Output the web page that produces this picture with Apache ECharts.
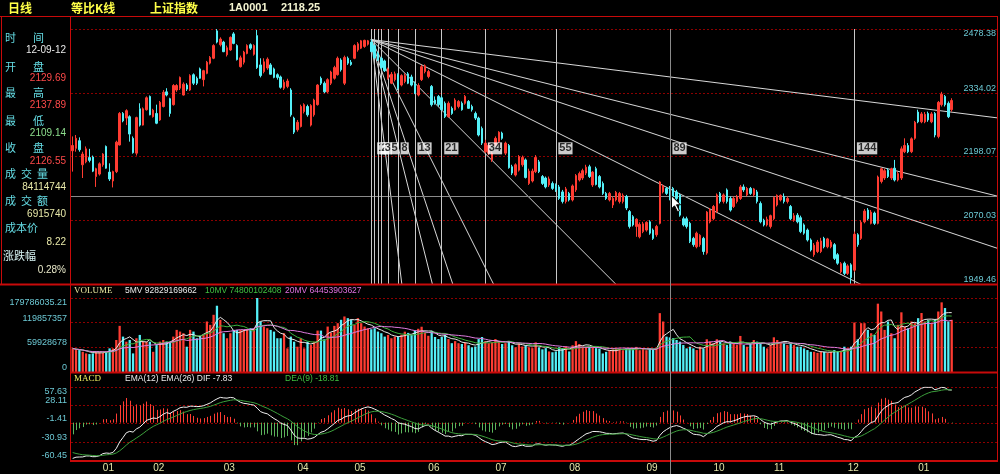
<!DOCTYPE html>
<html>
<head>
<meta charset="utf-8">
<title>上证指数 日线</title>
<script src="https://cdn.jsdelivr.net/npm/echarts@6.0.0/dist/echarts.min.js"></script>
<style>
  html, body { margin: 0; padding: 0; background: #000; }
  #chart { width: 1000px; height: 474px; }
</style>
</head>
<body>
<div id="chart"></div>
<script>
// ---- values ----
const opens = [2210,2215,2231,2181,2187,2196,2197,2157,2162,2181,
  2219,2166,2148,2167,2222,2289,2279,2282,2236,2205,
  2299,2264,2297,2326,2282,2289,2275,2304,2336,2321,
  2308,2340,2344,2329,2351,2340,2374,2366,2387,2363,
  2377,2400,2411,2474,2442,2448,2419,2430,2467,2440,
  2392,2402,2422,2442,2420,2463,2396,2381,2389,2396,
  2387,2374,2369,2344,2348,2340,2279,2254,2261,2293,
  2304,2264,2286,2308,2366,2355,2336,2355,2366,2374,
  2407,2355,2411,2402,2411,2430,2434,2438,2443,2448,
  2440,2422,2411,2405,2366,2355,2363,2374,2351,2359,
  2376,2369,2354,2329,2363,2381,2370,2348,2318,2326,
  2323,2311,2282,2300,2297,2304,2311,2311,2315,2304,
  2289,2279,2257,2208,2205,2191,2222,2229,2247,2205,
  2221,2177,2160,2170,2181,2191,2143,2148,2167,2187,
  2157,2154,2140,2143,2140,2136,2126,2107,2123,2110,
  2130,2150,2154,2164,2177,2140,2173,2157,2143,2123,
  2110,2100,2110,2107,2107,2117,2087,2077,2058,2038,
  2048,2051,2067,2051,2042,2064,2126,2133,2129.69,2133,
  2126,2120,2073,2073,2064,2035,2019,2023,2035,2007,
  2067,2073,2087,2123,2107,2130,2113,2097,2107,2113,
  2136,2120,2133,2120,2126,2103,2070,2061,2058,2073,
  2100,2110,2117,2107,2097,2070,2080,2075,2061,2051,
  2032,2004,2010,2010,2035,2019,2019,2023,2004,1972,
  1988,1969,1985,1975,2042,2035,2067,2090,2064,2084,
  2064,2147,2154,2170,2154,2174,2150,2154,2208,2221,
  2208,2236,2292,2271,2271,2289,2271,2289,2240,2308,
  2326,2311,2297];
const closes = [2221,2236,2212,2203,2214,2190,2168,2173,2183,2203,
  2174,2152,2167,2228,2289,2273,2295,2245,2206,2280,
  2264,2299,2323,2286,2296,2268,2313,2335,2329,2289,
  2350,2350,2368,2353,2342,2372,2355,2355,2366,2383,
  2402,2413,2440,2448,2455,2426,2435,2459,2445,2408,
  2412,2425,2440,2434,2440,2390,2372,2403,2409,2375,
  2368,2368,2346,2357,2360,2286,2249,2270,2304,2308,
  2286,2306,2318,2351,2355,2336,2363,2380,2390,2411,
  2385,2413,2400,2397,2440,2444,2451,2452,2451,2426,
  2412,2407,2390,2383,2387,2375,2376,2344,2372,2372,
  2355,2351,2333,2350,2392,2394,2381,2308,2311,2308,
  2297,2282,2311,2289,2318,2315,2297,2326,2300,2297,
  2279,2243,2226,2226,2221,2205,2236,2249,2236,2226,
  2175,2164,2181,2198,2196,2155,2168,2168,2196,2167,
  2143,2136,2152,2133,2130,2113,2107,2132,2110,2138,
  2159,2163,2169,2176,2157,2166,2141,2136,2123,2113,
  2123,2113,2125,2123,2119,2094,2058,2061,2072,2062,
  2063,2066,2045,2035,2058,2146,2138,2123,2126.55,2117,
  2113,2080,2061,2058,2029,2023,2045,2041,2010,2086,
  2090,2097,2120,2107,2120,2107,2090,2113,2117,2136,
  2130,2133,2123,2132,2107,2067,2061,2072,2079,2115,
  2119,2119,2107,2113,2073,2079,2067,2048,2045,2032,
  2013,2022,2028,2030,2019,2034,2028,1997,1988,1987,
  1969,1983,1961,2043,2023,2066,2088,2073,2086,2064,
  2156,2173,2169,2157,2173,2150,2163,2214,2221,2208,
  2235,2270,2271,2288,2287,2275,2288,2243,2313,2331,
  2308,2282,2317];
const lows = [2167,2208,2208,2154,2184,2186,2166,2136,2159,2177,
  2173,2148,2135,2164,2221,2270,2264,2229,2204,2200,
  2261,2263,2295,2285,2280,2266,2273,2302,2326,2282,
  2306,2336,2340,2328,2338,2338,2351,2351,2365,2348,
  2375,2397,2409,2445,2438,2425,2415,2428,2443,2406,
  2390,2397,2420,2430,2417,2387,2368,2377,2385,2374,
  2366,2363,2343,2340,2344,2282,2245,2250,2259,2289,
  2282,2261,2282,2306,2351,2333,2333,2351,2363,2372,
  2381,2351,2396,2394,2409,2426,2432,2435,2440,2425,
  2411,2405,2387,2380,2363,2353,2359,2340,2348,2355,
  2353,2348,2331,2326,2360,2377,2366,2304,2308,2304,
  2295,2279,2280,2286,2295,2300,2295,2308,2299,2293,
  2275,2240,2222,2205,2201,2187,2219,2226,2233,2201,
  2173,2160,2157,2167,2177,2153,2140,2145,2164,2164,
  2140,2133,2136,2130,2126,2110,2103,2103,2107,2107,
  2126,2147,2150,2160,2154,2136,2139,2133,2120,2110,
  2107,2094,2107,2103,2103,2090,2054,2058,2038,2035,
  2045,2048,2042,2032,2038,2062,2123,2120,2109.14,2113,
  2110,2077,2058,2054,2026,2019,2016,2019,2004,2004,
  2064,2070,2084,2103,2103,2103,2087,2094,2103,2110,
  2126,2117,2120,2117,2103,2064,2058,2058,2054,2070,
  2097,2107,2103,2103,2070,2067,2064,2045,2042,2029,
  2010,2000,2007,2007,2016,2016,2016,1994,1985,1969,
  1966,1966,1949.46,1972,2019,2032,2064,2070,2062,2061,
  2062,2143,2150,2154,2150,2147,2147,2150,2205,2205,
  2205,2233,2268,2268,2268,2271,2268,2238,2236,2304,
  2304,2279,2293];
const highs = [2240,2243,2238,2208,2219,2214,2200,2175,2186,2205,
  2221,2184,2169,2231,2292,2292,2298,2285,2240,2282,
  2311,2302,2326,2328,2299,2308,2316,2340,2344,2323,
  2353,2353,2370,2357,2355,2375,2377,2370,2390,2385,
  2405,2416,2443,2478.38,2459,2451,2440,2461,2471,2443,
  2417,2428,2443,2445,2443,2476,2411,2411,2413,2400,
  2390,2377,2372,2363,2365,2344,2282,2275,2308,2311,
  2308,2309,2321,2353,2370,2359,2366,2383,2394,2415,
  2411,2417,2415,2407,2443,2448,2453,2453.5,2453,2453.73,
  2443,2426,2415,2408,2390,2380,2381,2377,2375,2377,
  2380,2374,2359,2355,2396,2397,2385,2351,2326,2329,
  2328,2315,2315,2304,2322,2318,2315,2329,2318,2308,
  2293,2282,2261,2233,2226,2208,2240,2251,2250,2229,
  2224,2181,2184,2201,2200,2194,2173,2173,2201,2191,
  2160,2157,2157,2147,2143,2140,2130,2136,2126,2141,
  2162,2167,2173,2181,2181,2168,2177,2160,2147,2126,
  2126,2117,2128,2126,2123,2120,2090,2080,2074,2066,
  2067,2068,2070,2054,2061,2148,2141,2136,2137.89,2136,
  2130,2123,2077,2077,2067,2038,2048,2043,2038,2088,
  2094,2100,2123,2126,2123,2133,2117,2117,2120,2140,
  2141,2136,2136,2134,2130,2107,2073,2077,2081,2117,
  2121,2121,2123,2117,2100,2084,2084,2079,2064,2054,
  2035,2026,2032,2036,2038,2036,2032,2026,2007,1990,
  1991,1986,1988,2048,2045,2070,2092,2094,2090,2087,
  2159,2175,2173,2174,2175,2191,2167,2219,2236,2226,
  2238,2273,2297,2292,2292,2293,2292,2292,2316,2336,
  2329,2315,2322];
// volume in millions
const volumes = [57.4,53.3,53.3,49.1,45.2,43.6,45.2,49.1,49.1,46.6,
  49.1,57.4,57.4,77.8,112.1,86.0,73.7,77.8,45.2,82.0,
  90.1,73.7,73.7,73.7,49.1,65.5,73.7,77.8,73.7,73.7,
  86.0,102.3,98.2,94.2,61.5,102.3,98.2,82.0,86.0,90.1,
  122.7,114.5,139.0,161.0,126.8,94.2,82.0,94.2,102.3,102.3,
  102.3,102.3,102.3,106.4,103.9,179.78,122.7,110.4,106.4,102.3,
  98.2,82.0,82.0,94.2,57.4,86.0,73.7,61.5,82.0,57.4,
  73.7,65.5,73.7,100.6,100.6,79.5,110.4,95.8,112.1,118.6,
  126.8,134.9,130.8,126.8,114.5,130.8,118.6,110.4,106.4,103.9,
  106.4,98.2,94.2,86.0,90.1,82.0,86.0,86.0,90.1,98,
  95,90,100,105,110,95,88,100,85,80,
  85,90,80,70,75,70,68,72,65,60,
  62,80,85,75,70,72,80,75,68,70,
  75,65,60,70,62,65,60,58,72,60,
  55,58,50,48,50,60,58,62,50,65,
  75,68,62,60,62,60,58,57,45,49,
  53,55,57,57,53,57,57,57,61,53,
  57,53,57,55,57,143,122.7,86,84.11,82,
  77.8,73.7,65.5,57.4,61.5,57.4,53.3,61.5,57.4,79.5,
  73.7,69.6,79.5,73.7,69.6,65.5,73.7,69.6,65.5,87.6,
  65.5,61.5,69.6,77.8,73.7,69.6,61.5,57.4,65.5,84.3,
  77.8,73.7,69.6,65.5,69.6,65.5,61.5,61.5,57.4,53.3,
  49.1,49.1,46.6,49.1,49.1,46.6,49.1,53.3,49.1,51.6,
  61.5,57.4,61.5,120.2,79.5,118.6,118.6,102.3,94.2,90.1,
  166,147,102.3,122.7,94.2,82,114.5,145,110.4,106.4,
  122.7,118.6,130.8,143.3,122.7,126.8,118.6,126.8,147,169.2,
  155.4,122.7,126.8];

const priceTicks = ['1949.46', '2070.03', '2198.07', '2334.02', '2478.38'];
const priceMin = 1949.46;
const priceMax = 2478.38;
const volTicks = ['0', '59928678', '119857357', '179786035.21'];
const volStep = 59.9286784;
const macdTicks = ['-60.45', '-30.93', '-1.41', '28.11', '57.63'];
const macdMin = -60.45;
const macdStep = 29.52;
// DIF / DEA where the picture starts; EMA12 sits well above the first close
const macdStart = { dif: -58, dea: -46, ema12Gap: 52 };

const monthStarts = [9, 24, 45, 67, 84, 106, 126, 148, 171, 191, 209, 231, 252];
const monthLabels = ['01', '02', '03', '04', '05', '06', '07', '08', '09', '10', '11', '12', '01'];

const fibOrigin = 89;
const fibOriginPrice = 2453.73;
const fibDays = [0, 1, 2, 3, 5, 8, 13, 21, 34, 55, 89, 144];
const fibLabelPrice = 2215;
const gannSlopes = [8, 4, 3, 2, 1, 1 / 2, 1 / 3, 1 / 4, 1 / 8];

const crossIdx = 178;
const crossPrice = 2118.25;

const headerTexts = ['日线', '等比K线', '上证指数', '1A0001', '2118.25'];
const infoLabels = [['时', '间'], ['开', '盘'], ['最', '高'], ['最', '低'], ['收', '盘'],
  ['成', '交', '量'], ['成', '交', '额'], ['成本价'], ['涨跌幅']];
const infoValues = ['12-09-12', '2129.69', '2137.89', '2109.14', '2126.55', '84114744', '6915740', '8.22', '0.28%'];
const volTitle = ['VOLUME', '5MV 92829169662', '10MV 74800102408', '20MV 64453903627'];
const macdTitle = ['MACD', 'EMA(12) EMA(26) DIF -7.83', 'DEA(9) -18.81'];

// ---- layout ----
const SLOTS = 276;
const L = 71, R = 3;
const MAIN = { top: 29, height: 255 };
const VOL = { top: 298, height: 74 };
const MACD = { top: 387, height: 73 };

const RED = '#ff3c32';
const CYAN = '#54f0f8';
const GRID_RED = '#8c0000';
const FRAME = '#c80a0a';
const AXIS_TXT = '#6cc8d4';

const logStep = Math.log(priceMax / priceMin) / 4;
const pu = p => Math.log(p / priceMin) / logStep;
const mu = v => (v - macdMin) / macdStep;

const cats = Array.from({ length: SLOTS }, (_, i) => i);
const up = closes.map((c, i) => c >= opens[i]);

// moving averages of volume
const ma = n => volumes.map((_, i) => {
  const s = volumes.slice(Math.max(0, i - n + 1), i + 1);
  return +(s.reduce((a, b) => a + b, 0) / s.length).toFixed(2);
});

// MACD from closes
const dif = [], dea = [], hist = [];
let e12 = closes[0] + macdStart.ema12Gap;
let e26 = e12 - macdStart.dif;
let d9 = macdStart.dea;
closes.forEach(c => {
  e12 += (c - e12) * 2 / 13;
  e26 += (c - e26) * 2 / 27;
  const f = e12 - e26;
  d9 += (f - d9) * 2 / 10;
  dif.push(f);
  dea.push(d9);
  hist.push(2 * (f - d9));
});

// gann fan: slope in screen pixels
const barPx = (1000 - L - R) / SLOTS;
const stepPx = MAIN.height / 4;
const g = barPx / stepPx;
const u0 = pu(fibOriginPrice);
const fanSeries = gannSlopes.map(s => ({
  type: 'line', xAxisIndex: 1, yAxisIndex: 0, silent: true, symbol: 'none', clip: true,
  lineStyle: { color: '#d8d8d8', width: 1 },
  data: [[fibOrigin, u0], [fibOrigin + 400, u0 - s * g * 400]],
  z: 3
}));

const hideAxis = { axisLine: { show: false }, axisTick: { show: false } };
const dotted = { show: true, lineStyle: { color: GRID_RED, type: [2, 2], width: 1 } };
const lblFont = { color: AXIS_TXT, fontSize: 9, fontFamily: 'Liberation Sans' };

function pairAxes(grid, max, interval, ticks, position, inside, margin) {
  const n = ticks.length - 1;
  const base = {
    gridIndex: grid, type: 'value', min: 0, max: max, interval: interval, position: position,
    ...hideAxis
  };
  return [
    { ...base, splitLine: dotted,
      axisLabel: { ...lblFont, inside: inside, margin: margin, verticalAlign: 'bottom',
        formatter: v => { const k = Math.round(v / interval); return k === n ? '' : ticks[k]; } } },
    { ...base, splitLine: { show: false },
      axisLabel: { ...lblFont, inside: inside, margin: margin, verticalAlign: 'top',
        formatter: v => { const k = Math.round(v / interval); return k === n ? ticks[k] : ''; } } }
  ];
}

// ---- text / frames ----
const cjk = '"Noto Sans CJK SC"';
const T = (x, y, text, fill, font, align) => ({
  type: 'text', x: x, y: y, silent: true, z: 100,
  style: { text: text, fill: fill, font: font, textAlign: align || 'left', align: align || 'left',
    textVerticalAlign: 'middle', verticalAlign: 'middle' }
});
const Ln = (x1, y1, x2, y2, w, c) => ({
  type: 'line', silent: true, z: 90,
  shape: { x1: x1, y1: y1, x2: x2, y2: y2 },
  style: { stroke: c || FRAME, lineWidth: w || 1 }
});

const graphics = [];
const hx = [8, 71, 150, 229, 281];
headerTexts.forEach((t, i) => {
  const isNum = i >= 3;
  graphics.push(T(hx[i], 8, t, isNum ? '#f4f4d0' : '#ffff48',
    isNum ? 'bold 11px "Liberation Sans"' : 'bold 12px ' + cjk));
});
const labelY = [38, 66.7, 93.3, 121, 147.7, 174.3, 201, 227.7, 255.7];
infoLabels.forEach((parts, i) => {
  const col = i === 8 ? '#d8f4f4' : '#64dce4';
  if (parts.length === 1) {
    graphics.push(T(i === 8 ? 3 : 5, labelY[i], parts[0], col, '11px ' + cjk));
  } else {
    const xs = parts.length === 2 ? [5, 33] : [5, 21, 37];
    parts.forEach((p, k) => graphics.push(T(xs[k], labelY[i], p, col, '11px ' + cjk)));
  }
});
const valueY = [50.7, 78.3, 105, 133.3, 161.7, 187.7, 214, 242.3, 270];
const valueCol = ['#e8e8e8', '#ff4a4a', '#ff4a4a', '#8ee08e', '#ff4a4a', '#e8e8a8', '#e8e8a8', '#e8e8a8', '#e8e8c8'];
infoValues.forEach((v, i) => graphics.push(T(66, valueY[i], v, valueCol[i], '10px "Liberation Sans"', 'right')));

const smallFont = '8.5px "Liberation Sans"';
graphics.push(T(74, 291, volTitle[0], '#e8e8a0', '9px "Liberation Serif"'));
graphics.push(T(125, 291, volTitle[1], '#e8e8e8', smallFont));
graphics.push(T(205, 291, volTitle[2], '#40c040', smallFont));
graphics.push(T(285, 291, volTitle[3], '#e070e0', smallFont));
graphics.push(T(74, 379, macdTitle[0], '#f0f060', '9px "Liberation Serif"'));
graphics.push(T(125, 379, macdTitle[1], '#e8e8e8', smallFont));
graphics.push(T(285, 379, macdTitle[2], '#40c040', smallFont));

graphics.push(Ln(70, 16.5, 998, 16.5));
graphics.push(Ln(0, 284.5, 998, 284.5, 2));
graphics.push(Ln(70, 372.5, 998, 372.5, 2));
graphics.push(Ln(70, 461, 998, 461, 2));
graphics.push(Ln(70.5, 16, 70.5, 461));
graphics.push(Ln(997.5, 16, 997.5, 461));
graphics.push(Ln(1.5, 16, 1.5, 285));
graphics.push(Ln(0, 16.5, 70, 16.5));

// ---- chart ----
const chart = echarts.init(document.getElementById('chart'), null, { renderer: 'canvas' });

const option = {
  backgroundColor: '#000',
  animation: false,
  textStyle: { fontFamily: 'Liberation Sans' },
  grid: [
    { left: L, right: R, top: MAIN.top, height: MAIN.height },
    { left: L, right: R, top: VOL.top, height: VOL.height },
    { left: L, right: R, top: MACD.top, height: MACD.height }
  ],
  xAxis: [
    { gridIndex: 0, type: 'category', data: cats, show: false },
    { gridIndex: 0, type: 'value', min: -0.5, max: SLOTS - 0.5, show: false },
    { gridIndex: 1, type: 'category', data: cats, show: false },
    { gridIndex: 2, type: 'category', data: cats, ...hideAxis,
      axisLabel: {
        color: '#e4e4a8', fontSize: 10, margin: 3, align: 'left',
        interval: i => monthStarts.indexOf(i) >= 0,
        formatter: (v, i) => monthLabels[monthStarts.indexOf(i)] || ''
      } }
  ],
  yAxis: [
    ...pairAxes(0, 4, 1, priceTicks, 'right', true, 1),
    ...pairAxes(1, volStep * 3, volStep, volTicks, 'left', false, 4),
    ...pairAxes(2, 4, 1, macdTicks, 'left', false, 4)
  ],
  graphic: graphics,
  series: [
    {
      type: 'candlestick', xAxisIndex: 0, yAxisIndex: 0, barWidth: 2, z: 5,
      data: opens.map((o, i) => [pu(o), pu(closes[i]), pu(lows[i]), pu(highs[i])]),
      itemStyle: { color: RED, color0: CYAN, borderColor: RED, borderColor0: CYAN, borderWidth: 1 },
      markLine: {
        silent: true, symbol: 'none', animation: false, label: { show: false },
        lineStyle: { color: '#8a8a8a', type: 'solid', width: 1 },
        data: [{ yAxis: pu(crossPrice) }]
      }
    },
    ...fanSeries,
    {
      type: 'scatter', xAxisIndex: 1, yAxisIndex: 0, symbolSize: 1, silent: true, z: 6,
      itemStyle: { color: 'rgba(0,0,0,0)' },
      data: fibDays.filter(d => d > 0).map(d => ({ name: String(d), value: [fibOrigin + d, pu(fibLabelPrice)] })),
      label: {
        show: true, position: 'right', distance: 2, formatter: '{b}',
        color: '#000', backgroundColor: '#fff', fontSize: 11, fontWeight: 'bold',
        fontFamily: 'Liberation Sans', padding: [1, 1, 0, 1]
      },
      markLine: {
        silent: true, symbol: 'none', animation: false, label: { show: false },
        lineStyle: { color: '#c8c8c8', type: 'solid', width: 1 },
        data: fibDays.filter(d => fibOrigin + d !== crossIdx).map(d => ({ xAxis: fibOrigin + d }))
      }
    },
    {
      type: 'bar', xAxisIndex: 2, yAxisIndex: 2, barWidth: '68%',
      data: volumes.map((v, i) => ({ value: v, itemStyle: { color: up[i] ? RED : CYAN } }))
    },
    { type: 'line', xAxisIndex: 2, yAxisIndex: 2, data: ma(5), symbol: 'none', silent: true,
      lineStyle: { color: '#e8e8e8', width: 1 } },
    { type: 'line', xAxisIndex: 2, yAxisIndex: 2, data: ma(10), symbol: 'none', silent: true,
      lineStyle: { color: '#3cb43c', width: 1 } },
    { type: 'line', xAxisIndex: 2, yAxisIndex: 2, data: ma(20), symbol: 'none', silent: true,
      lineStyle: { color: '#e07ce0', width: 1 } },
    {
      type: 'custom', xAxisIndex: 3, yAxisIndex: 4, silent: true,
      data: hist.map((h, i) => [i, mu(h)]),
      encode: { x: 0, y: 1 },
      renderItem: (params, api) => {
        const i = api.value(0);
        const v = api.value(1);
        const a = api.coord([i, mu(0)]);
        const b = api.coord([i, v]);
        const x = Math.round(a[0]) + 0.5;
        return { type: 'line', shape: { x1: x, y1: a[1], x2: x, y2: b[1] },
          style: { stroke: v >= mu(0) ? '#ff3c32' : '#5cb45c', lineWidth: 1 } };
      }
    },
    { type: 'line', xAxisIndex: 3, yAxisIndex: 4, data: dif.map(mu), symbol: 'none', silent: true,
      lineStyle: { color: '#f0f0f0', width: 1 } },
    { type: 'line', xAxisIndex: 3, yAxisIndex: 4, data: dea.map(mu), symbol: 'none', silent: true,
      lineStyle: { color: '#3ca03c', width: 1 } }
  ]
};

chart.setOption(option);

// crosshair: one vertical line through every panel, plus the mouse pointer
const cx = Math.round(chart.convertToPixel({ xAxisIndex: 0 }, crossIdx)) + 0.5;
const cy = chart.convertToPixel({ yAxisIndex: 0 }, pu(crossPrice));
const arrow = [[0, 0], [0, 13], [3, 10], [6, 16], [8, 15], [5, 9], [9, 9]].map(p => [cx + 1 + p[0], cy + p[1]]);
chart.setOption({
  graphic: graphics.concat([
    Ln(cx, MAIN.top, cx, 474, 1, '#8a8a8a'),
    { type: 'polygon', silent: true, z: 120, shape: { points: arrow },
      style: { fill: '#ffffff', stroke: '#000000', lineWidth: 1 } }
  ])
});
</script>
</body>
</html>
